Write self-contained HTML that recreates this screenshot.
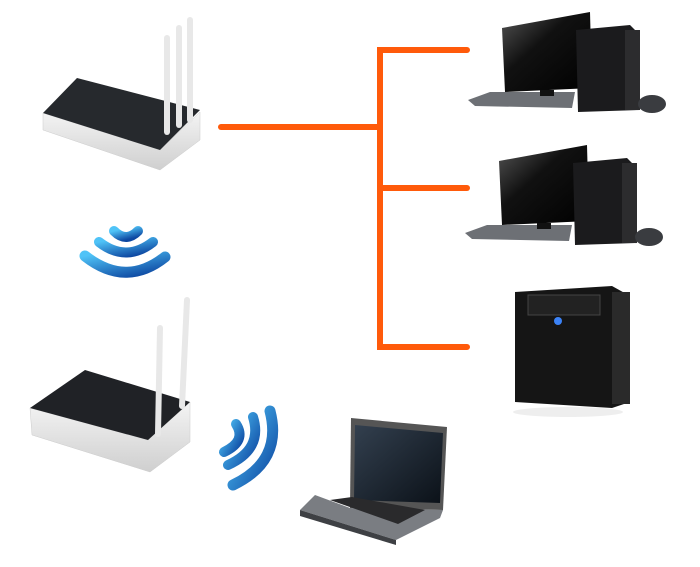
<!DOCTYPE html>
<html><head><meta charset="utf-8"><style>html,body{margin:0;padding:0;background:#fff}svg{display:block}</style></head>
<body>
<svg width="700" height="567" viewBox="0 0 700 567" xmlns="http://www.w3.org/2000/svg">
<defs>
<linearGradient id="wf" x1="0" y1="0" x2="1" y2="1"><stop offset="0" stop-color="#4fc3f7"/><stop offset="1" stop-color="#0d47a1"/></linearGradient>
<linearGradient id="wb" x1="0" y1="0" x2="0" y2="1"><stop offset="0" stop-color="#f4f4f4"/><stop offset="1" stop-color="#cfcfcf"/></linearGradient>
<linearGradient id="scr" x1="0" y1="0" x2="1" y2="1"><stop offset="0" stop-color="#555"/><stop offset="0.4" stop-color="#111"/><stop offset="1" stop-color="#000"/></linearGradient>
<linearGradient id="lap" x1="0" y1="0" x2="1" y2="1"><stop offset="0" stop-color="#33404f"/><stop offset="1" stop-color="#0b1118"/></linearGradient>
</defs>
<g stroke="#ff5a0a" stroke-width="6" stroke-linecap="round" fill="none">
<path d="M221 127 H380"/>
<path d="M467 50 H380 V347 H467"/>
<path d="M380 188 H467"/>
</g>
<!-- router 1 -->
<polygon points="43,113 43,130 160,170 200,140 200,112 160,150" fill="url(#wb)" stroke="#ccc" stroke-width="0.5"/>
<polygon points="43,113 77,78 200,110 160,150" fill="#26292d"/>
<g stroke="#e8e8e8" stroke-linecap="round"><line x1="167" y1="132" x2="167" y2="38" stroke-width="6"/><line x1="179" y1="125" x2="179" y2="28" stroke-width="6"/><line x1="190" y1="120" x2="190" y2="20" stroke-width="6"/></g>
<!-- wifi 1 -->
<g fill="none" stroke="url(#wf)" stroke-linecap="round">
<path d="M114 231 Q126 243 138 231" stroke-width="10"/>
<path d="M99 242 Q126 263 153 242" stroke-width="10"/>
<path d="M85 256 Q126 288 165 257" stroke-width="11"/>
</g>
<!-- router 2 -->
<polygon points="30,408 32,435 150,472 190,442 190,402 148,440" fill="url(#wb)" stroke="#ccc" stroke-width="0.5"/>
<polygon points="30,408 85,370 190,402 148,440" fill="#202226"/>
<g stroke="#e8e8e8" stroke-linecap="round"><line x1="158" y1="434" x2="160" y2="328" stroke-width="6"/><line x1="182" y1="406" x2="187" y2="300" stroke-width="6"/></g>
<!-- wifi 2 -->
<g fill="none" stroke="url(#wf)" stroke-linecap="round">
<path d="M236 424 Q247 441 224 452" stroke-width="10"/>
<path d="M253 417 Q263 449 228 465" stroke-width="10"/>
<path d="M270 411 Q283 461 233 485" stroke-width="11"/>
</g>
<!-- PCs -->
<g id="pc">
<polygon points="468,100 490,92 575,92 572,108 475,106" fill="#6d7075"/>
<polygon points="502,28 590,12 592,88 505,92" fill="url(#scr)"/>
<rect x="540" y="90" width="14" height="6" fill="#111"/>
<polygon points="576,30 630,25 640,35 640,110 578,112" fill="#1b1b1d"/>
<rect x="625" y="30" width="15" height="80" fill="#2c2c2e"/>
<ellipse cx="652" cy="104" rx="14" ry="9" fill="#3a3c40"/>
</g>
<use href="#pc" transform="translate(-3,133)"/>
<!-- server -->
<polygon points="515,292 612,286 630,296 630,402 612,408 515,402" fill="#151515"/>
<rect x="612" y="292" width="18" height="112" fill="#2a2a2a"/>
<rect x="528" y="295" width="72" height="20" fill="#222" stroke="#444"/>
<circle cx="558" cy="321" r="4" fill="#3b82f6"/>
<ellipse cx="568" cy="412" rx="55" ry="5" fill="#eee"/>
<!-- laptop -->
<polygon points="351,418 447,427 443,510 350,508" fill="#555" />
<polygon points="355,425 443,433 440,503 354,500" fill="url(#lap)"/>
<polygon points="350,508 443,510 440,518 396,540 300,510 315,495" fill="#7a7d82"/>
<polygon points="330,500 352,497 425,510 398,524" fill="#2a2a2c"/>
<polygon points="300,510 396,540 396,545 300,516" fill="#3e4044"/>
</svg>
</body></html>
